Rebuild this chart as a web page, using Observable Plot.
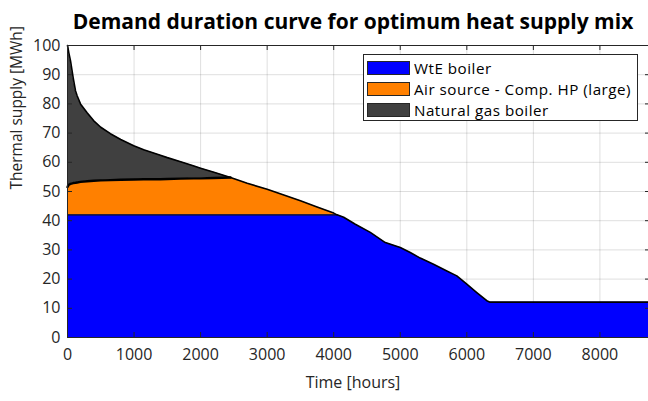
<!DOCTYPE html>
<html>
<head>
<meta charset="utf-8">
<script src="https://cdn.jsdelivr.net/npm/d3@7"></script>
<script src="https://cdn.jsdelivr.net/npm/@observablehq/plot@0.6"></script>
<style>
  html, body { margin: 0; padding: 0; background: #fff; overflow: hidden; }
  #wrap { position: relative; width: 648px; height: 401px; font-family: "Open Sans", sans-serif; color: #262626; }
  #legend { position: absolute; left: 363px; top: 54px; width: 275px; height: 67px; background: #fff; border: 1px solid #262626; box-sizing: border-box; padding: 2px 0 0 3px; }
  .row { display: flex; align-items: center; height: 21px; }
  .sw { width: 43px; height: 14px; border: 1px solid #262626; box-sizing: border-box; margin-right: 4px; flex: none; }
  .lab { font-size: 15.2px; line-height: 20px; letter-spacing: 0.5px; color: #000; white-space: nowrap; }
</style>
</head>
<body>
<div id="wrap"></div>
<script>
// Data
const hours = [0, 5, 20, 45, 85, 120, 145, 195, 295, 395, 500, 645, 800, 995, 1145, 1395, 1500, 1700, 1900, 2000, 2200, 2450, 2700, 3000, 3250, 3500, 3750, 4000, 4050, 4150, 4325, 4550, 4775, 5000, 5150, 5300, 5500, 5700, 5850, 6000, 6150, 6300, 6350, 7000, 8000, 8760];
const demand = [100, 99.5, 97.5, 94.8, 89, 84.5, 82.8, 80, 77, 74.2, 72, 69.8, 67.8, 65.7, 64.3, 62.4, 61.6, 60.2, 58.7, 58.0, 56.6, 54.8, 52.8, 50.8, 48.8, 46.8, 44.7, 42.6, 42.0, 41.2, 38.8, 36.0, 32.5, 30.8, 29.1, 27.2, 25.1, 22.8, 21.1, 18.3, 15.4, 12.6, 12.1, 12.1, 12.1, 12.1];
// Upper edge of the heat pump band (WtE + HP output) where it is below demand
const hpLimit = [51.5, 51.8, 52.3, 52.6, 52.9, 53.0, 53.1, 53.3, 53.5, 53.7, 53.8, 53.9, 54.0, 54.1, 54.2, 54.2, 54.3, 54.4, 54.5, 54.5, 54.6, 54.8];
const wteCapacity = 42;
const seriesNames = ["WtE boiler", "Air source - Comp. HP (large)", "Natural gas boiler"];
const seriesColors = ["#0000ff", "#ff8000", "#404040"];
const xTicks = [0, 1000, 2000, 3000, 4000, 5000, 6000, 7000, 8000];
const yTicks = [0, 10, 20, 30, 40, 50, 60, 70, 80, 90, 100];
const title = "Demand duration curve for optimum heat supply mix";
const xLabel = "Time [hours]";
const yLabel = "Thermal supply [MWh]";

const rows = hours.map((h, i) => {
  const d = demand[i];
  const lim = hpLimit[i] ?? d;
  return { h, demand: d, wte: Math.min(d, wteCapacity), hp: Math.min(d, lim) };
});
const hpRows = rows.filter((r, i) => hpLimit[i] != null);
const wteRows = rows.filter(r => r.demand >= wteCapacity);

const innerH = 401 - 45 - 64;
const innerW = 648 + 2 - 67;
const tick = 5;
const ink = "#262626";

const chart = Plot.plot({
  width: 648,
  height: 401,
  marginLeft: 67,
  marginRight: -2,
  marginTop: 45,
  marginBottom: 64,
  style: { fontFamily: "Open Sans, sans-serif", color: ink, background: "transparent", overflow: "visible" },
  x: { domain: [0, 8760] },
  y: { domain: [0, 100] },
  marks: [
    Plot.gridX(xTicks, { stroke: "#000", strokeOpacity: 0.13, strokeWidth: 1 }),
    Plot.gridY(yTicks, { stroke: "#000", strokeOpacity: 0.13, strokeWidth: 1 }),
    Plot.areaY(rows, { x: "h", y1: 0, y2: "wte", fill: seriesColors[0], curve: "linear" }),
    Plot.areaY(rows, { x: "h", y1: "wte", y2: "hp", fill: seriesColors[1], curve: "linear" }),
    Plot.areaY(rows, { x: "h", y1: "hp", y2: "demand", fill: seriesColors[2], curve: "linear" }),
    Plot.lineY(wteRows, { x: "h", y: "wte", stroke: "#111", strokeWidth: 1.2 }),
    Plot.lineY(hpRows, { x: "h", y: "hp", stroke: "#000", strokeWidth: 2.4 }),
    Plot.lineY(rows, { x: "h", y: "demand", stroke: "#000", strokeWidth: 1.6 }),
    Plot.ruleX(xTicks, { stroke: ink, insetTop: innerH - tick }),
    Plot.ruleX(xTicks, { stroke: ink, insetBottom: innerH - tick }),
    Plot.ruleY(yTicks, { stroke: ink, insetRight: innerW - tick }),
    Plot.ruleY(yTicks, { stroke: ink, insetLeft: innerW - tick }),
    Plot.frame({ stroke: ink, strokeWidth: 1 }),
    Plot.axisX(xTicks, { tickSize: 0, tickPadding: 11, fontSize: 16, label: null, fill: ink, tickFormat: d => String(d) }),
    Plot.axisY(yTicks, { tickSize: 0, tickPadding: 7, fontSize: 16, label: null, fill: ink, tickFormat: d => String(d) }),
    Plot.text([title], { frameAnchor: "top", dx: -6, dy: -31, fontSize: 21, fontWeight: "bold", fill: "#000" }),
    Plot.text([xLabel], { frameAnchor: "bottom", dx: -6, dy: 50, fontSize: 16, fill: ink }),
    Plot.text([yLabel], { frameAnchor: "left", dx: -50, dy: -2, rotate: -90, fontSize: 15.5, fill: ink })
  ]
});

const wrap = document.getElementById("wrap");
wrap.appendChild(chart);
const legend = document.createElement("div");
legend.id = "legend";
seriesNames.forEach((name, i) => {
  const row = document.createElement("div");
  row.className = "row";
  const sw = document.createElement("div");
  sw.className = "sw";
  sw.style.background = seriesColors[i];
  const lab = document.createElement("span");
  lab.className = "lab";
  lab.textContent = name;
  row.appendChild(sw);
  row.appendChild(lab);
  legend.appendChild(row);
});
wrap.appendChild(legend);
</script>
</body>
</html>
